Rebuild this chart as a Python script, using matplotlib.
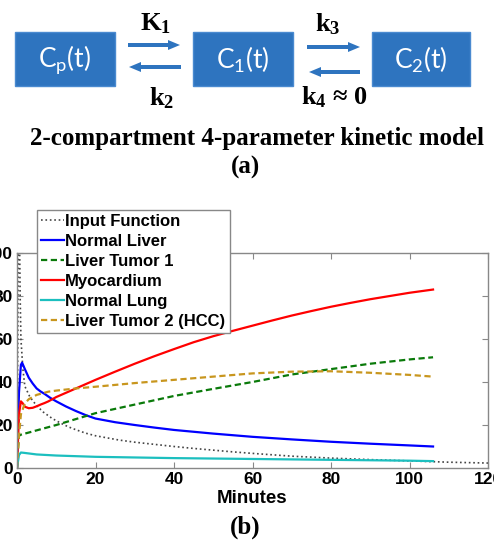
import matplotlib
matplotlib.use('Agg')
import matplotlib.pyplot as plt
from matplotlib.patches import Rectangle, FancyArrow

# ---- data (minutes, concentration) ----
t_input = [0, 0.2, 0.4, 0.6, 0.8, 1.0, 1.5, 2, 3.3, 5, 6.7, 9, 11, 13, 15, 17.5, 20, 23, 26, 30, 35, 40, 45,
           50, 55, 60, 70, 80, 90, 100, 110, 120]
input_fn = [0, 60, 140, 115, 80, 60, 46, 38, 33, 29, 26, 23, 21, 19.2, 17.8, 16.2, 15, 14, 13, 12, 11, 10, 9.1,
            8.3, 7.5, 6.8, 5.5, 4.6, 3.9, 3.3, 2.7, 2.3]

t_liver = [0, 0.5, 1, 1.3, 2, 3, 4, 5, 6, 7, 8.5, 10, 12.5, 15, 17.5, 20, 25, 30, 35, 40, 50, 60, 70, 80, 90, 100, 106]
normal_liver = [0, 35, 48, 49, 46, 42, 39.3, 37, 35.6, 34.5, 32.6, 31, 28.6, 26.5, 24.6, 23, 21.3, 20, 18.8, 17.7,
                16, 14.5, 13.3, 12.2, 11.3, 10.5, 10]

t_tumor1 = [0, 0.3, 0.5, 1, 3, 10, 20, 30, 40, 50, 60, 70, 80, 90, 100, 106]
liver_tumor1 = [0, 10, 15, 15.5, 16.5, 20, 25.5, 29.5, 33.5, 36.8, 40, 43.5, 46, 48.5, 50.5, 51.5]

t_myo = [0, 0.5, 1, 1.5, 2, 3, 4, 5, 6, 7, 8, 10, 12.5, 15, 17.5, 20, 25, 30, 35, 40, 45, 50, 55, 60, 65, 70,
         75, 80, 85, 90, 95, 100, 106]
myocardium = [0, 25, 31, 30, 28.5, 27.8, 28, 28.7, 29.5, 30.2, 31, 33, 35, 37, 39, 41, 44.8, 48.5, 52, 55.3,
              58.5, 61.3, 63.8, 66.2, 68.6, 70.9, 73, 75, 76.8, 78.5, 80, 81.5, 83]

t_lung = [0, 0.5, 1, 2, 5, 10, 20, 40, 60, 80, 100, 106]
normal_lung = [0, 6, 7.2, 7, 6.3, 5.8, 5.2, 4.6, 4.2, 3.8, 3.4, 3.2]

t_hcc = [0, 0.5, 1, 2, 3, 5, 8, 10, 15, 20, 30, 40, 50, 60, 70, 80, 90, 100, 106]
liver_tumor2 = [0, 15, 25, 30, 32, 34, 35.5, 36, 37, 37.8, 39.5, 41, 42.5, 44, 44.8, 45, 44.3, 43.3, 42.5]

labels = ['Input Function', 'Normal Liver', 'Liver Tumor 1', 'Myocardium',
          'Normal Lung', 'Liver Tumor 2 (HCC)']

BLUE = '#2E74BF'
W, H = 494, 546

fig = plt.figure(figsize=(W / 100, H / 100), dpi=100)

# ---- (a) compartment diagram, drawn in pixel coordinates ----
dg = fig.add_axes([0, 0, 1, 1], zorder=-1)
dg.set_xlim(0, W)
dg.set_ylim(H, 0)
dg.axis('off')

boxes = [(15, 32, 100, 54, r'$\mathregular{C_p(t)}$'),
         (193, 32, 100, 54, r'$\mathregular{C_1(t)}$'),
         (372, 32, 98, 54, r'$\mathregular{C_2(t)}$')]
for x, y, w, h, txt in boxes:
    dg.add_patch(Rectangle((x, y), w, h, facecolor=BLUE, edgecolor='#4A8AD0', lw=1))
    dg.text(x + w / 2, y + h / 2 + 1, txt, color='white', fontsize=19,
            family='Lato', ha='center', va='center')

arrows = [(128, 45, 52), (181, 67, -52), (307, 47, 53), (360, 72, -51)]
for x, y, dx in arrows:
    dg.add_patch(FancyArrow(x, y, dx, 0, width=4, head_width=10, head_length=12,
                            length_includes_head=True, color=BLUE, lw=0))

serif = dict(family='Liberation Serif', weight='bold', ha='center', va='center')
dg.text(155, 24, r'$\mathregular{K_1}$', fontsize=19, **serif)
dg.text(162, 98, r'$\mathregular{k_2}$', fontsize=19, **serif)
dg.text(328, 24, r'$\mathregular{k_3}$', fontsize=19, **serif)
dg.text(334, 97, r'$\mathregular{k_4}$ ≈ 0', fontsize=19, **serif)
dg.text(257, 138, '2-compartment 4-parameter kinetic model', fontsize=18, **serif)
dg.text(245, 167, '(a)', fontsize=18, **serif)
dg.text(245, 527, '(b)', fontsize=18, **serif)

# ---- (b) time-activity curves ----
ax = fig.add_axes([17 / W, (H - 468) / H, 471 / W, 215 / H])
dash = (2.8, 1.6)
l0, = ax.plot(t_input, input_fn, ':', color='#444444', lw=1.2)
l1, = ax.plot(t_liver, normal_liver, '-', color='#0000FF', lw=1.6)
l2, = ax.plot(t_tumor1, liver_tumor1, '--', dashes=dash, color='#0A7A0A', lw=1.6)
l3, = ax.plot(t_myo, myocardium, '-', color='#FF0000', lw=1.6)
l4, = ax.plot(t_lung, normal_lung, '-', color='#1CBFBF', lw=1.6)
l5, = ax.plot(t_hcc, liver_tumor2, '--', dashes=dash, color='#C8961E', lw=1.6)

ax.set_xlim(0, 120)
ax.set_ylim(0, 100)
ax.set_xticks(range(0, 121, 20))
ax.set_yticks(range(0, 101, 20))
for s in ax.spines.values():
    s.set_color('#888888')
    s.set_linewidth(1)
ax.tick_params(direction='in', length=4, color='#888888', top=True, right=True,
               labelsize=12.5, pad=3)
for lab in ax.get_xticklabels() + ax.get_yticklabels():
    lab.set_fontweight('bold')
    lab.set_family('Liberation Sans')
ax.set_xlabel('Minutes', fontsize=13.5, fontweight='bold', family='Liberation Sans', labelpad=2)

fig.legend([l0, l1, l2, l3, l4, l5], labels, loc='upper left',
           bbox_to_anchor=(37 / W, 1 - 210 / H), borderaxespad=0,
           prop=dict(family='Liberation Sans', weight='bold', size=12),
           handlelength=1.35, handletextpad=0.1, labelspacing=0.3,
           borderpad=0.25, fancybox=False, edgecolor='#888888', framealpha=1)

fig.savefig('out.png', dpi=100)
